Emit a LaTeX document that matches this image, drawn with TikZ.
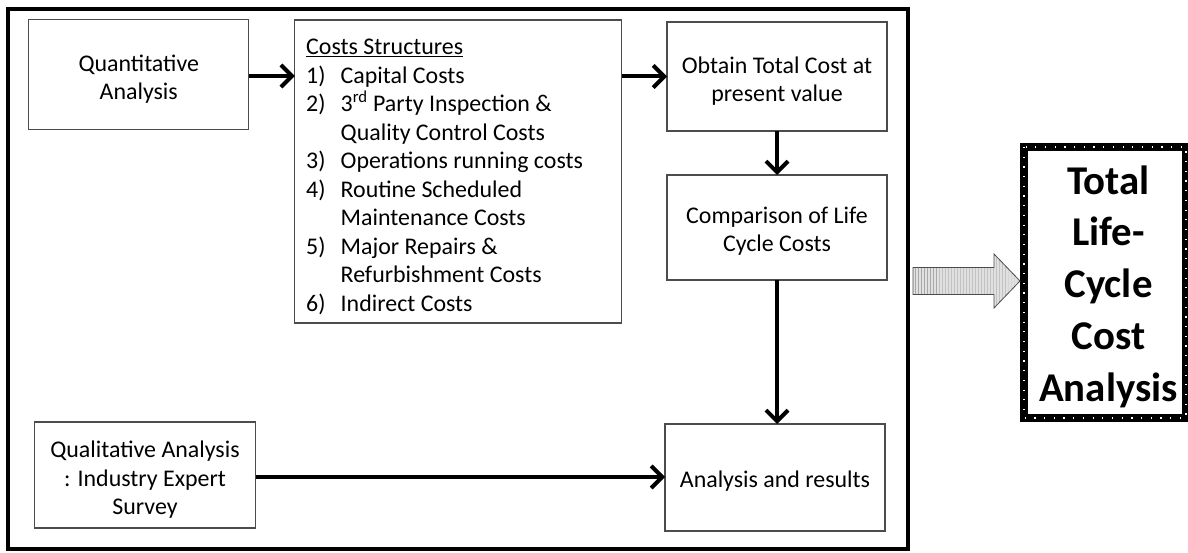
\documentclass[tikz,border=0pt]{standalone}
\usepackage{fontspec}
\setmainfont{Carlito}
\usetikzlibrary{arrows.meta,patterns}
\begin{document}
\begin{tikzpicture}[x=1bp,y=-1bp,
  box/.style={draw=black!70, line width=1.2bp, inner sep=0pt, outer sep=0pt},
  txt/.style={inner sep=0pt, align=center, font=\fontsize{24}{28.6}\selectfont},
  arr/.style={line width=4bp, -{Straight Barb[length=11bp,width=22bp,line width=4bp]}}]
\useasboundingbox (0,0) rectangle (1188,553);
% outer frame
\node[draw, line width=4.5bp, inner sep=0pt, outer sep=0pt,
  minimum width=900bp, minimum height=540bp] (outer) at (458,279) {};
% boxes
\node[box, minimum width=220bp, minimum height=110bp] (quant) at (138.75,74.5) {};
\node[txt] (quantt) at ([yshift=-4.5bp]quant.center) {Quantitative\\Analysis};
\node[box, minimum width=327bp, minimum height=303bp] (costs) at (458.3,171.5) {};
\node[txt, align=left, anchor=north west]
  (ctext) at (306,39) {\underline{Costs Structures}\\
  \makebox[34.5bp][l]{1)}Capital Costs\\
  \makebox[34.5bp][l]{2)}3\textsuperscript{rd} Party Inspection \&\\
  \hspace*{34.5bp}Quality Control Costs\\
  \makebox[34.5bp][l]{3)}Operations running costs\\
  \makebox[34.5bp][l]{4)}Routine Scheduled\\
  \hspace*{34.5bp}Maintenance Costs\\
  \makebox[34.5bp][l]{5)}Major Repairs \&\\
  \hspace*{34.5bp}Refurbishment Costs\\
  \makebox[34.5bp][l]{6)}Indirect Costs};
\node[box, minimum width=220bp, minimum height=109bp] (obtain) at (777,76.5) {};
\node[txt] (obtaint) at ([yshift=-4.5bp]obtain.center) {Obtain Total Cost at\\present value};
\node[box, minimum width=220bp, minimum height=105bp] (comp) at (777,227.5) {};
\node[txt] (compt) at ([yshift=-3.5bp]comp.center) {Comparison of Life\\Cycle Costs};
\node[box, minimum width=220bp, minimum height=107bp] (anal) at (775,477.5) {};
\node[txt] (analt) at ([yshift=-4bp]anal.center) {Analysis and results};
\node[box, minimum width=221bp, minimum height=106bp] (qual) at (145,475) {};
\node[txt] (qualt) at ([yshift=-5bp]qual.center) {Qualitative Analysis\\: Industry Expert\\Survey};
% connectors
\draw[arr] ([yshift=-1.5bp]quant.east) -- ([yshift=-1.5bp]costs.west |- quant.east);
\draw[arr] (costs.east |- obtain.west) -- (obtain.west);
\draw[arr] (obtain.south) -- (comp.north);
\draw[arr] (comp.south) -- (comp.south |- anal.north);
\draw[arr] ([yshift=-2bp]qual.east) -- ([yshift=-2bp]anal.west |- qual.east);
% result box
\node[draw, line width=8bp, inner sep=0pt, outer sep=0pt,
  minimum width=162bp, minimum height=271bp] (tlcca) at (1105,282.5) {};
\draw[white, line width=1.4bp, dash pattern=on 1.2bp off 8.5bp]
  (tlcca.north west) rectangle (tlcca.south east);
\node[align=center, inner sep=0pt, font=\fontsize{41}{52}\selectfont\bfseries]
  (tlccatext) at (1108.5,286.5) {Total\\Life-\\Cycle\\Cost\\Analysis};
% big block arrow
\coordinate (bs) at (913,281);
\coordinate (be) at ([xshift=-4bp]tlcca.west |- bs);
\draw[preaction={fill=black!12}, pattern=vertical lines, pattern color=black!45,
  draw=black!70, line width=0.8bp]
  ([yshift=13.5bp]bs) -- ([xshift=-26bp,yshift=13.5bp]be) -- ([xshift=-26bp,yshift=27bp]be)
  -- (be) -- ([xshift=-26bp,yshift=-27bp]be) -- ([xshift=-26bp,yshift=-13.5bp]be)
  -- ([yshift=-13.5bp]bs) -- cycle;
\end{tikzpicture}
\end{document}
